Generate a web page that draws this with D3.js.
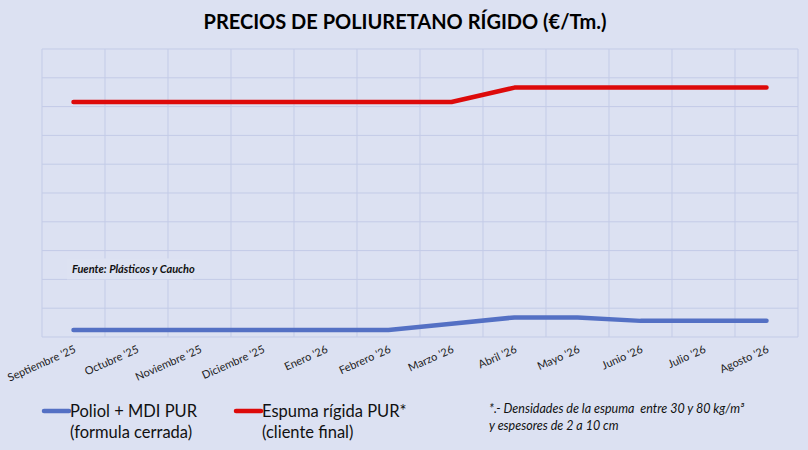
<!DOCTYPE html>
<html>
<head>
<meta charset="utf-8">
<script src="https://cdn.jsdelivr.net/npm/d3@7"></script>
<style>
    body { margin: 0; background: #dce1f2; }
    svg { display: block; }
</style>
</head>
<body>
<div id="chart"></div>
<script>
// months on the x axis
const months = ["Septiembre '25", "Octubre '25", "Noviembre '25", "Diciembre '25", "Enero '26", "Febrero '26",
    "Marzo '26", "Abril '26", "Mayo '26", "Junio '26", "Julio '26", "Agosto '26"];

// prices in €/Tm (no y labels on the original, read against the grid)
const poliolMdi = [2120, 2120, 2120, 2120, 2120, 2120, 2230, 2340, 2340, 2280, 2280, 2280];
const espumaRigida = [6080, 6080, 6080, 6080, 6080, 6080, 6080, 6330, 6330, 6330, 6330, 6330];

const yTicks = [2000, 2500, 3000, 3500, 4000, 4500, 5000, 5500, 6000, 6500, 7000];

const width = 808, height = 450;
const margin = {top: 49, right: 10, bottom: 113, left: 42};

const svg = d3.select("#chart").append("svg")
    .attr("width", width)
    .attr("height", height);

svg.append("rect")
    .attr("width", width)
    .attr("height", height)
    .attr("fill", "#dce1f2");

const x = d3.scaleBand()
    .domain(months)
    .range([margin.left, width - margin.right]);

const y = d3.scaleLinear()
    .domain([yTicks[0], yTicks[yTicks.length - 1]])
    .range([height - margin.bottom, margin.top]);

const gridColor = "#c3cbe7";

// horizontal grid
svg.append("g")
    .selectAll("line")
    .data(yTicks)
    .join("line")
    .attr("x1", margin.left)
    .attr("x2", width - margin.right)
    .attr("y1", d => y(d))
    .attr("y2", d => y(d))
    .attr("stroke", gridColor)
    .attr("stroke-width", 1);

// vertical grid at the band edges
const edges = months.map(m => x(m)).concat([x.range()[1]]);
svg.append("g")
    .selectAll("line")
    .data(edges)
    .join("line")
    .attr("x1", d => d)
    .attr("x2", d => d)
    .attr("y1", margin.top)
    .attr("y2", height - margin.bottom)
    .attr("stroke", gridColor)
    .attr("stroke-width", 1);

// source note, sits on a box that hides the grid behind it
const fuente = svg.append("g")
    .attr("transform", `translate(${x(months[0]) + 25}, ${y(3000) - 14})`);
fuente.append("rect")
    .attr("x", 0)
    .attr("y", -7)
    .attr("width", 126)
    .attr("height", 21)
    .attr("fill", "#dde2f2");
fuente.append("text")
    .attr("x", 5)
    .attr("y", 8)
    .attr("font-family", "Lato, sans-serif")
    .attr("font-size", "11px")
    .attr("font-weight", "bold")
    .attr("font-style", "italic")
    .attr("fill", "#111")
    .text("Fuente: Plásticos y Caucho");

// x labels, rotated
const xAxis = d3.axisBottom(x).tickSize(0).tickPadding(0);
const gx = svg.append("g")
    .attr("transform", `translate(0, ${height - margin.bottom})`)
    .call(xAxis);
gx.select(".domain").remove();
gx.selectAll("text")
    .attr("font-family", "Lato, sans-serif")
    .attr("font-size", "11px")
    .attr("fill", "#222")
    .attr("text-anchor", "end")
    .attr("dy", null)
    .attr("transform", "translate(3, 15) rotate(-24)");

// lines
const line = d3.line()
    .x((d, i) => x(months[i]) + x.bandwidth() / 2)
    .y(d => y(d));

const series = [
    {values: poliolMdi, color: "#5470c4"},
    {values: espumaRigida, color: "#dd0a0a"}
];

svg.append("g")
    .selectAll("path")
    .data(series)
    .join("path")
    .attr("d", d => line(d.values))
    .attr("fill", "none")
    .attr("stroke", d => d.color)
    .attr("stroke-width", 4.5)
    .attr("stroke-linejoin", "round")
    .attr("stroke-linecap", "round");

// title
svg.append("text")
    .attr("x", 405)
    .attr("y", 29)
    .attr("text-anchor", "middle")
    .attr("font-family", "Lato, sans-serif")
    .attr("font-size", "20px")
    .attr("font-weight", "bold")
    .attr("fill", "#000")
    .text("PRECIOS DE POLIURETANO RÍGIDO (€/Tm.)");

// legend
const legendItems = [
    {x: 44, color: "#5470c4", lines: ["Poliol + MDI PUR", "(formula cerrada)"]},
    {x: 236, color: "#dd0a0a", lines: ["Espuma rígida PUR*", "(cliente final)"]}
];

const legend = svg.append("g").selectAll("g")
    .data(legendItems)
    .join("g")
    .attr("transform", d => `translate(${d.x}, 411)`);

legend.append("line")
    .attr("x1", 0)
    .attr("x2", 25)
    .attr("stroke", d => d.color)
    .attr("stroke-width", 4.5)
    .attr("stroke-linecap", "round");

legend.append("text")
    .attr("x", 26)
    .attr("y", 5.5)
    .attr("font-family", "Lato, sans-serif")
    .attr("font-size", "16.5px")
    .attr("fill", "#111")
    .selectAll("tspan")
    .data(d => d.lines)
    .join("tspan")
    .attr("x", 26)
    .attr("dy", (d, i) => i === 0 ? 0 : 21)
    .text(d => d);

// footnote
const note = svg.append("text")
    .attr("x", 489)
    .attr("y", 413)
    .attr("font-family", "Lato, sans-serif")
    .attr("font-size", "12.5px")
    .attr("font-style", "italic")
    .attr("fill", "#111")
    .style("white-space", "pre");
note.append("tspan").attr("x", 489).text("*.- Densidades de la espuma  entre 30 y 80 kg/m³");
note.append("tspan").attr("x", 489).attr("dy", 17).text("y espesores de 2 a 10 cm");
</script>
</body>
</html>
